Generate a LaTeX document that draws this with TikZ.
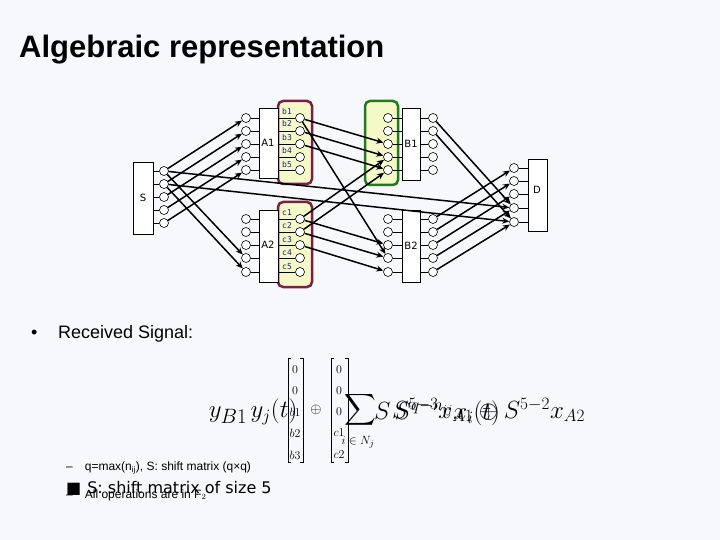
\documentclass[tikz,border=0pt]{standalone}
\usepackage{fontspec}
\setmainfont{Liberation Sans}
\newfontfamily\djv{DejaVu Sans}
\newfontfamily\mono{DejaVu Sans Mono}
\usetikzlibrary{arrows.meta}
\definecolor{bg}{HTML}{F7F8FC}
\definecolor{purp}{HTML}{7A1F45}
\definecolor{grn}{HTML}{237A1E}
\definecolor{yel}{HTML}{F5F9C8}
\definecolor{lbl}{HTML}{1A237E}
\tikzset{
  port/.style={circle,draw,fill=white,minimum size=9pt,inner sep=0pt,line width=0.6pt},
  blk/.style={draw,fill=white,line width=0.6pt},
  arr/.style={-{Stealth[length=7pt,width=6pt]},line width=1.5pt},
  stub/.style={line width=0.6pt},
  lab/.style={font=\djv\fontsize{10}{10}\selectfont,inner sep=1pt,fill=white},
  sub/.style={font=\mono\fontsize{8}{8}\selectfont,text=lbl,inner sep=0pt},
  grp/.style={rounded corners=5pt,line width=2.5pt,fill=yel},
  txt/.style={inner sep=0pt,anchor=west}
}
\begin{document}
\begin{tikzpicture}[x=1pt,y=-1pt]
\fill[bg] (0,0) rectangle (720,540);
\useasboundingbox (0,0) rectangle (720,540);
\node[txt,font=\bfseries\fontsize{31}{31}\selectfont] (title) at (19,50) {Algebraic representation};
% groups
\draw[grp,draw=purp] (278,101) rectangle (312,184);
\draw[grp,draw=purp] (278,202) rectangle (312,287);
\draw[grp,draw=grn] (365,101) rectangle (398,185);
% blocks
\draw[blk] (133,162) rectangle (153,234); \node[lab,fill=none] (Sl) at (143,198) {S};
\draw[blk] (259,108) rectangle (278,178);
\draw[blk] (259,210) rectangle (278,282);
\draw[blk] (402,108) rectangle (420,180);
\draw[blk] (402,210) rectangle (420,282);
\draw[blk] (528,159) rectangle (547,231); \node[lab,fill=none] (Dl) at (537,190) {D};
% ports
\foreach \i/\y in {1/171,2/184,3/197,4/210,5/223}{
  \node[port] (s\i) at (164,\y) {}; \draw[stub] (153,\y) -- (s\i);}
\foreach \i/\y in {1/168,2/181,3/194,4/208,5/222}{
  \node[port] (d\i) at (514,\y) {}; \draw[stub] (d\i) -- (528,\y);}
\foreach \i/\y in {1/118,2/131,3/144,4/157,5/170}{
  \node[port] (ai\i) at (246,\y) {}; \draw[stub] (ai\i) -- (259,\y);
  \node[port] (ao\i) at (300,\y) {}; \draw[stub] (278,\y) -- (ao\i);
  \node[port] (bi\i) at (388,\y) {}; \draw[stub] (bi\i) -- (402,\y);
  \node[port] (bo\i) at (433,\y) {}; \draw[stub] (420,\y) -- (bo\i);}
\foreach \i/\y in {1/219,2/232,3/245,4/258,5/272}{
  \node[port] (ci\i) at (246,\y) {}; \draw[stub] (ci\i) -- (259,\y);
  \node[port] (co\i) at (300,\y) {}; \draw[stub] (278,\y) -- (co\i);
  \node[port] (ei\i) at (388,\y) {}; \draw[stub] (ei\i) -- (402,\y);
  \node[port] (eo\i) at (433,\y) {}; \draw[stub] (420,\y) -- (eo\i);}
\foreach \i/\y in {1/112,2/124,3/138,4/151,5/165}{\node[sub] (bl\i) at (287,\y) {b\i};}
\foreach \i/\y in {1/213,2/226,3/240,4/253,5/267}{\node[sub] (cl\i) at (287,\y) {c\i};}
\node[lab] (A1) at (268,143) {A1};
\node[lab] (A2) at (268,245) {A2};
\node[lab] (B1) at (411,144) {B1};
\node[lab] (B2) at (411,246) {B2};
% arrows
\foreach \i in {1,...,5}{\draw[arr] (s\i) -- (ai\i);}
\draw[arr] (s1) -- (ci4); \draw[arr] (s2) -- (ci5);
\draw[arr] (s1) -- (d4); \draw[arr] (s2) -- (d5);
\draw[arr] (ao1) -- (bi3); \draw[arr] (ao2) -- (bi4); \draw[arr] (ao3) -- (bi5);
\draw[arr] (ao1) -- (ei4);
\draw[arr] (co1) -- (bi4); \draw[arr] (co2) -- (bi5);
\draw[arr] (co1) -- (ei3); \draw[arr] (co2) -- (ei4); \draw[arr] (co3) -- (ei5);
\draw[arr] (bo1) -- (d4); \draw[arr] (bo2) -- (d5);
\foreach \i in {1,...,5}{\draw[arr] (eo\i) -- (d\i);}
% text
\node[txt,font=\fontsize{18}{18}\selectfont] (bul) at (31,334) {•};
\node[txt,font=\fontsize{18}{18}\selectfont] (rs) at (58,334) {Received Signal:};
\node[inner sep=0pt,font=\fontsize{32}{32}\selectfont] (yb) at (228,415) {$y_{B1}$};
\node[inner sep=0pt,font=\fontsize{24}{24}\selectfont] (yj) at (274,412) {$y_j(t)$};
\draw[line width=0.5pt] (291,358) -- (288,358) -- (288,462) -- (291,462);
\draw[line width=0.5pt] (300,358) -- (303,358) -- (303,462) -- (300,462);
\draw[line width=0.5pt] (334,358) -- (331,358) -- (331,462) -- (334,462);
\draw[line width=0.5pt] (345,358) -- (348,358) -- (348,462) -- (345,462);
\foreach \t/\y [count=\k] in {0/370,0/391,b1/412,b2/433,b3/455}{\node[inner sep=0pt,font=\fontsize{12}{12}\selectfont] (m\k) at (295,\y) {$\t$};}
\foreach \t/\y [count=\k] in {0/370,0/391,0/412,c1/433,c2/455}{\node[inner sep=0pt,font=\fontsize{12}{12}\selectfont] (n\k) at (339,\y) {$\t$};}
\node[inner sep=0pt,font=\fontsize{14}{14}\selectfont] (op1) at (316,410) {$\oplus$};
\node[inner sep=0pt,scale=2.2] (sm) at (360,410) {$\displaystyle\sum$};
\node[inner sep=0pt,font=\fontsize{13}{13}\selectfont] (ij) at (358,442) {$i\in N_j$};
\node[inner sep=0pt,font=\fontsize{26}{26}\selectfont,anchor=west] (f1) at (374,413) {$S\,S^{q-n_{ij}}x_i(t)$};
\node[inner sep=0pt,font=\fontsize{26}{26}\selectfont,anchor=west] (f2) at (392,410) {$S^{5-3}x_{A1}\oplus S^{5-2}x_{A2}$};
\node[txt,font=\fontsize{12}{12}\selectfont] (q) at (66,468) {–\hspace{12pt}q=max(n$_{\mathrm{ij}}$), S: shift matrix (q×q)};
\node[txt,font=\djv\fontsize{16}{16}\selectfont] (sh) at (66,488) {■\hspace{6pt}S: shift matrix of size 5};
\node[txt,font=\fontsize{12}{12}\selectfont] (ops) at (66,495) {–\hspace{12pt}All operations are in F$_2$};
\end{tikzpicture}
\end{document}
